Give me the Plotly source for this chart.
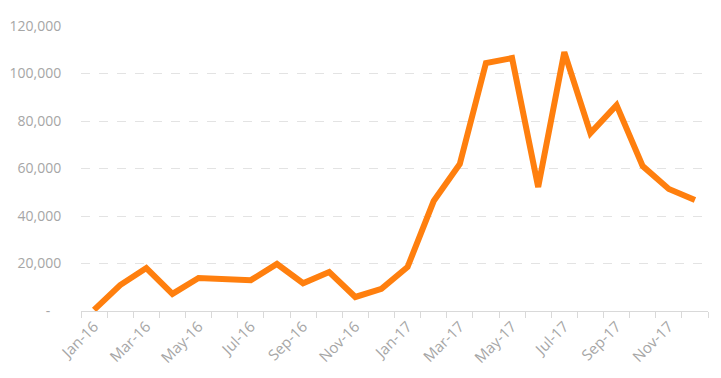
import plotly.graph_objects as go

months = ["Jan-16","Feb-16","Mar-16","Apr-16","May-16","Jun-16","Jul-16","Aug-16","Sep-16","Oct-16","Nov-16","Dec-16",
          "Jan-17","Feb-17","Mar-17","Apr-17","May-17","Jun-17","Jul-17","Aug-17","Sep-17","Oct-17","Nov-17","Dec-17"]
values = [500, 10900, 18100, 7200, 13900, 13400, 13000, 19800, 11700, 16400, 5900, 9300,
          18500, 46300, 61900, 104400, 106500, 52200, 109000, 74900, 86700, 61000, 51400, 46700]
y_ticks = [0, 20000, 40000, 60000, 80000, 100000, 120000]
y_labels = ["-\u00a0\u00a0\u00a0", "20,000", "40,000", "60,000", "80,000", "100,000", "120,000"]

idx = list(range(len(months)))

fig = go.Figure(go.Scatter(
    x=idx, y=values, mode="lines",
    line=dict(color="#FF7F0E", width=6),
    hoverinfo="skip",
))

fig.update_layout(
    width=721, height=378,
    margin=dict(l=73, r=21, t=18, b=75),
    paper_bgcolor="white", plot_bgcolor="white",
    showlegend=False,
    font=dict(family="Open Sans", size=14, color="#A6A6A6"),
)
fig.update_xaxes(
    range=[-0.5, len(months) - 0.5],
    tickvals=idx[::2], ticktext=months[::2],
    tickangle=-45, ticks="", automargin=False,
    showgrid=False, zeroline=False,
    showline=True, linecolor="#D9D9D9", linewidth=1,
    minor=dict(tickmode="linear", tick0=-0.5, dtick=1, ticks="outside", ticklen=6, tickcolor="#D9D9D9", showgrid=False),
    tickfont=dict(size=15, color="#A6A6A6"),
)
fig.update_yaxes(
    range=[0, 120000], automargin=False,
    tickvals=y_ticks, ticktext=y_labels,
    ticks="outside", ticklen=16, tickcolor="rgba(0,0,0,0)",
    showgrid=True, gridcolor="#E3E3E3", griddash="dash", gridwidth=1,
    zeroline=False, showline=False,
    tickfont=dict(size=14, color="#A6A6A6"),
)

fig.write_html("out.html")
